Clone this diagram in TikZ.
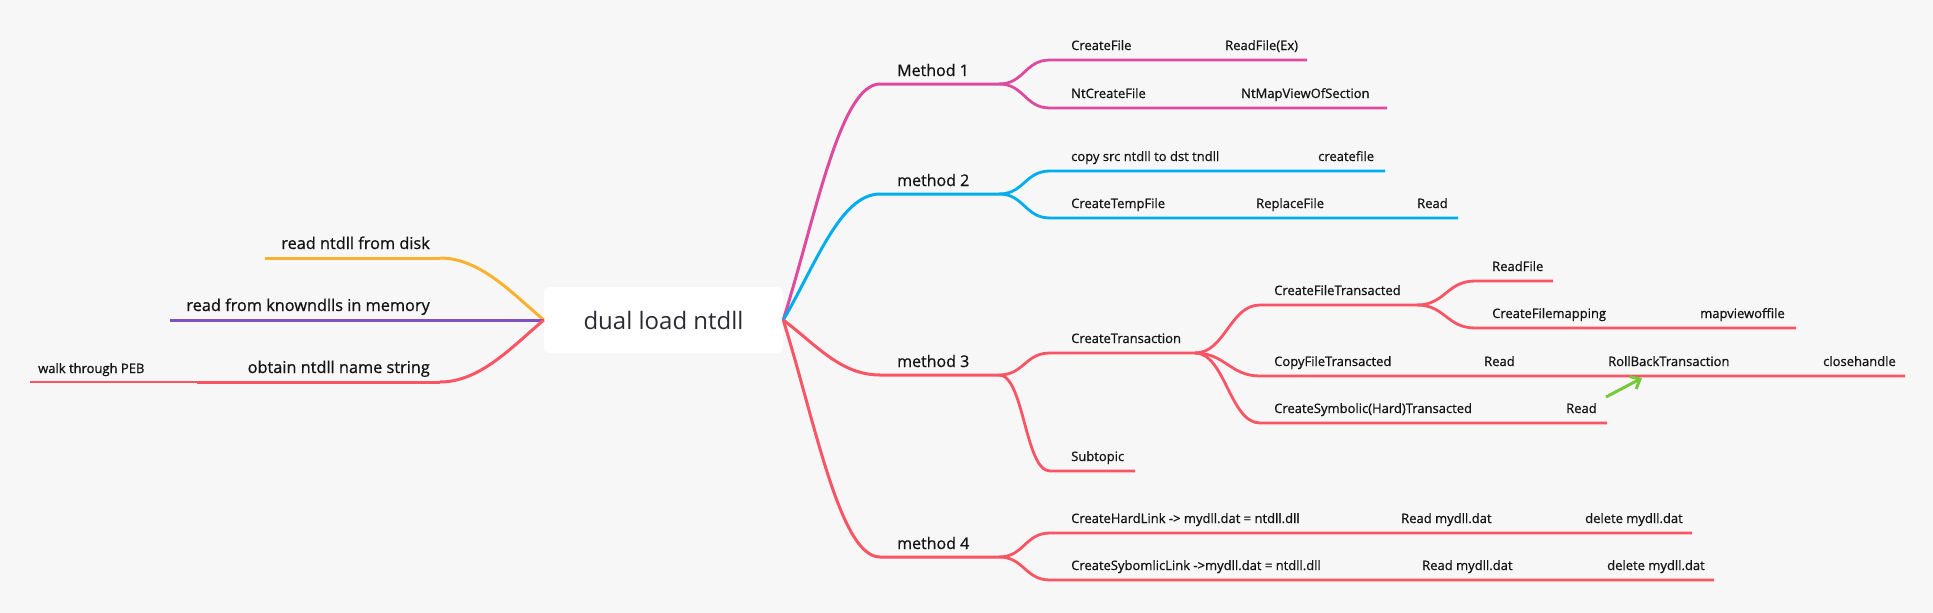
\documentclass[tikz,border=0pt]{standalone}
\usepackage{fontspec}
\setmainfont{Open Sans}[BoldFont={Open Sans}, BoldFeatures={FakeBold=0.8}]
\usetikzlibrary{arrows.meta}
\definecolor{bg}{HTML}{F7F7F7}
\definecolor{txt}{HTML}{141414}
\definecolor{roottxt}{HTML}{2B2B33}
\definecolor{cpink}{HTML}{DD4A9E}
\definecolor{cblue}{HTML}{00AEEF}
\definecolor{cred}{HTML}{FA5565}
\definecolor{corange}{HTML}{FBB12F}
\definecolor{cpurple}{HTML}{7E52C4}
\definecolor{cgreen}{HTML}{77C93C}
\tikzset{
  rootbox/.style={fill=white, rounded corners=6pt, minimum width=239pt, minimum height=66pt, inner sep=0pt,
    font=\fontsize{24}{28}\selectfont, text=roottxt},
  mlabel/.style={anchor=base west, inner sep=0pt, font=\fontsize{16}{19}\selectfont\bfseries, text=txt},
  llabel/.style={anchor=base east, inner sep=0pt, font=\fontsize{16.3}{19}\selectfont\bfseries, text=txt},
  clabel/.style={anchor=base west, inner sep=0pt, font=\fontsize{13}{15}\selectfont\bfseries, text=txt},
  mainbr/.style={line width=3pt},
  subbr/.style={line width=2.8pt},
  scurve/.style={to path={.. controls +(#1,0) and +(-#1,0) .. (\tikztotarget)}},
  scurve/.default=25
}
\begin{document}
\begin{tikzpicture}[x=1pt,y=-1pt]
\useasboundingbox[fill=bg] (0,0) rectangle (1933,613);

% root
\node[rootbox] (root) at (663.5,320) {dual load ntdll};

% ---------- left side ----------
\coordinate (disk) at (440,258);
\coordinate (diskend) at (265,258);
\coordinate (known) at (170,320);
\coordinate (obtain) at (440,382);
\coordinate (obtainend) at (197,382);
\coordinate (pebend) at (30,382);

\draw[mainbr, corange] (diskend) -- (disk);
\draw[mainbr, corange] (root.west) .. controls +(-32,-27) and +(40,0) .. (disk);
\draw[mainbr, cpurple] (known) -- (root.west);
\draw[mainbr, cred] (root.west) .. controls +(-32,27) and +(40,0) .. (obtain);
\draw[mainbr, cred] (obtain) -- (obtainend);
\draw[subbr, cred] (obtainend) -- (pebend);

\node[llabel] (tdisk) at (430,249) {read ntdll from disk};
\node[llabel] (tknown) at (430,311) {read from knowndlls in memory};
\node[llabel] (tobtain) at (430,373) {obtain ntdll name string};
\node[clabel] (tpeb) at (38,373) {walk through PEB};

% ---------- right side: method lines ----------
\coordinate (m1s) at (880,84);  \coordinate (m1e) at (999,84);
\coordinate (m2s) at (880,194); \coordinate (m2e) at (999,194);
\coordinate (m3s) at (880,375); \coordinate (m3e) at (999,375);
\coordinate (m4s) at (880,557); \coordinate (m4e) at (999,557);

\draw[mainbr, cpink] (root.east) .. controls +(32,-101.5) and +(-40,0) .. (m1s) -- (m1e);
\draw[mainbr, cblue] (root.east) .. controls +(32,-54) and +(-40,0) .. (m2s) -- (m2e);
\draw[mainbr, cred] (root.east) .. controls +(32,23.7) and +(-40,0) .. (m3s) -- (m3e);
\draw[mainbr, cred] (root.east) .. controls +(32,102) and +(-40,0) .. (m4s) -- (m4e);

\node[mlabel] (tm1) at (897,76) {Method 1};
\node[mlabel] (tm2) at (897,186) {method 2};
\node[mlabel] (tm3) at (897,367) {method 3};
\node[mlabel] (tm4) at (897,549) {method 4};

% ---------- method 1 ----------
\coordinate (cfs) at (1050,60);  \coordinate (cfe) at (1307,60);
\coordinate (ncs) at (1050,108); \coordinate (nce) at (1387,108);
\draw[subbr, cpink] (m1e) to[scurve] (cfs) -- (cfe);
\draw[subbr, cpink] (m1e) to[scurve] (ncs) -- (nce);
\node[clabel] (tcf) at (1071,50) {CreateFile};
\node[clabel] (trf) at (1225,50) {ReadFile(Ex)};
\node[clabel] (tnc) at (1071,98) {NtCreateFile};
\node[clabel] (tnm) at (1241,98) {NtMapViewOfSection};

% ---------- method 2 ----------
\coordinate (cps) at (1050,171); \coordinate (cpe) at (1385,171);
\coordinate (tps) at (1050,218); \coordinate (tpe) at (1458,218);
\draw[subbr, cblue] (m2e) to[scurve] (cps) -- (cpe);
\draw[subbr, cblue] (m2e) to[scurve] (tps) -- (tpe);
\node[clabel] (tcp) at (1071,161) {copy src ntdll to dst tndll};
\node[clabel] (tcrf) at (1318,161) {createfile};
\node[clabel] (ttp) at (1071,208) {CreateTempFile};
\node[clabel] (trp) at (1256,208) {ReplaceFile};
\node[clabel] (trd) at (1417,208) {Read};

% ---------- method 3 ----------
\coordinate (cts) at (1050,353); \coordinate (cte) at (1195,353);
\coordinate (sbs) at (1050,471); \coordinate (sbe) at (1135,471);
\draw[subbr, cred] (m3e) to[scurve] (cts) -- (cte);
\draw[subbr, cred] (m3e) to[scurve] (sbs) -- (sbe);
\node[clabel] (tct) at (1071,343) {CreateTransaction};
\node[clabel] (tsb) at (1071,461) {Subtopic};

\coordinate (cfts) at (1260,305); \coordinate (cfte) at (1417,305);
\coordinate (cpts) at (1260,376); \coordinate (cpte) at (1905,376);
\coordinate (csys) at (1260,423); \coordinate (csye) at (1607,423);
\draw[subbr, cred] (cte) to[scurve=30] (cfts) -- (cfte);
\draw[subbr, cred] (cte) to[scurve=30] (cpts) -- (cpte);
\draw[subbr, cred] (cte) to[scurve=30] (csys) -- (csye);
\node[clabel] (tcft) at (1274,295) {CreateFileTransacted};
\node[clabel] (tcpt) at (1274,366) {CopyFileTransacted};
\node[clabel] (tcpr) at (1484,366) {Read};
\node[clabel] (trb) at (1608,366) {RollBackTransaction};
\node[clabel] (tch) at (1823,366) {closehandle};
\node[clabel] (tcsy) at (1274,413) {CreateSymbolic(Hard)Transacted};
\node[clabel] (tcsr) at (1566,413) {Read};

\coordinate (rfs) at (1475,281); \coordinate (rfe) at (1553,281);
\coordinate (fms) at (1475,328); \coordinate (fme) at (1796,328);
\draw[subbr, cred] (cfte) to[scurve=28] (rfs) -- (rfe);
\draw[subbr, cred] (cfte) to[scurve=28] (fms) -- (fme);
\node[clabel] (trf2) at (1492,271) {ReadFile};
\node[clabel] (tfm) at (1492,318) {CreateFilemapping};
\node[clabel] (tmv) at (1700,318) {mapviewoffile};

% green arrow
\coordinate (ga) at (1606,397);
\coordinate (gb) at (1642,378);
\draw[cgreen, line width=3pt, -{Straight Barb[length=8pt,width=14pt]}] (ga) -- (gb);

% ---------- method 4 ----------
\coordinate (hls) at (1050,533); \coordinate (hle) at (1692,533);
\coordinate (sls) at (1050,580); \coordinate (sle) at (1714,580);
\draw[subbr, cred] (m4e) to[scurve] (hls) -- (hle);
\draw[subbr, cred] (m4e) to[scurve] (sls) -- (sle);
\node[clabel] (thl) at (1071,523) {CreateHardLink -> mydll.dat = ntdll.dll};
\node[clabel] (thr) at (1401,523) {Read mydll.dat};
\node[clabel] (thd) at (1585,523) {delete mydll.dat};
\node[clabel] (tsl) at (1071,570) {CreateSybomlicLink ->mydll.dat = ntdll.dll};
\node[clabel] (tsr) at (1422,570) {Read mydll.dat};
\node[clabel] (tsd) at (1607,570) {delete mydll.dat};
\end{tikzpicture}
\end{document}
